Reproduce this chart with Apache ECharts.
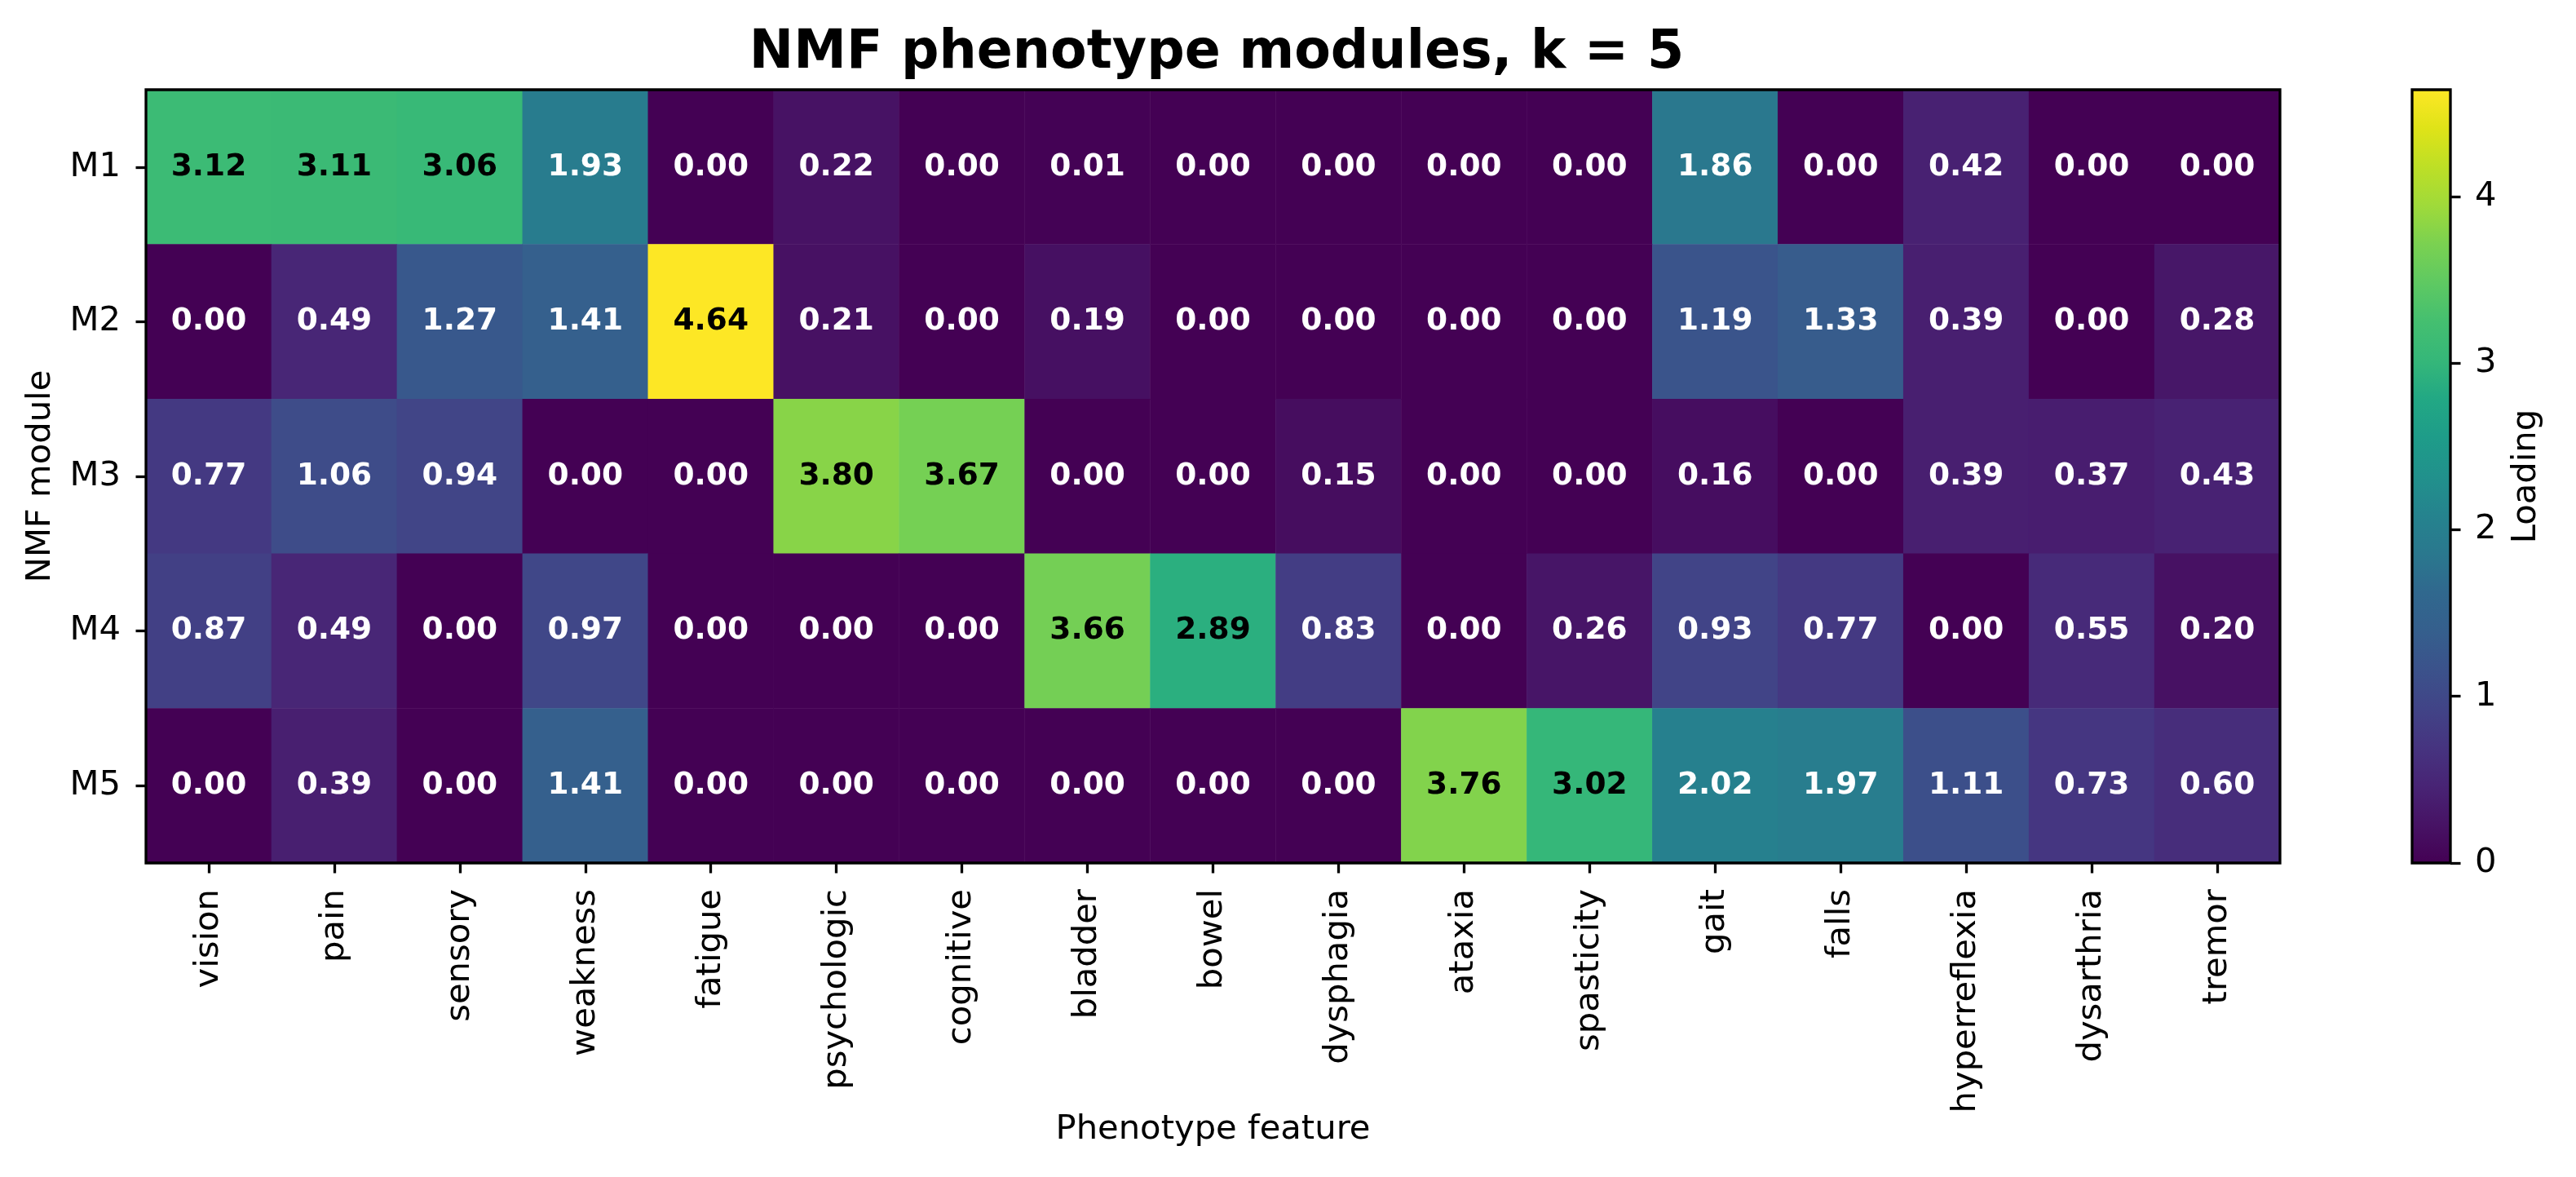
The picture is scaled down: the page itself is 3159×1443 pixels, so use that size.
<!DOCTYPE html>
<html>
<head>
<meta charset="utf-8">
<title>NMF phenotype modules</title>
<script src="https://cdn.jsdelivr.net/npm/echarts@6/dist/echarts.min.js"></script>
<style>
  html, body { margin: 0; padding: 0; background: #fff; }
  #chart { width: 3159px; height: 1443px; }
</style>
</head>
<body>
<div id="chart"></div>
<script>
// phenotype features (x) and modules (y)
var features = ['vision', 'pain', 'sensory', 'weakness', 'fatigue', 'psychologic', 'cognitive',
    'bladder', 'bowel', 'dysphagia', 'ataxia', 'spasticity', 'gait', 'falls',
    'hyperreflexia', 'dysarthria', 'tremor'];
var modules = ['M1', 'M2', 'M3', 'M4', 'M5'];

// loadings per module
var m1 = [3.12, 3.11, 3.06, 1.93, 0.00, 0.22, 0.00, 0.01, 0.00, 0.00, 0.00, 0.00, 1.86, 0.00, 0.42, 0.00, 0.00];
var m2 = [0.00, 0.49, 1.27, 1.41, 4.64, 0.21, 0.00, 0.19, 0.00, 0.00, 0.00, 0.00, 1.19, 1.33, 0.39, 0.00, 0.28];
var m3 = [0.77, 1.06, 0.94, 0.00, 0.00, 3.80, 3.67, 0.00, 0.00, 0.15, 0.00, 0.00, 0.16, 0.00, 0.39, 0.37, 0.43];
var m4 = [0.87, 0.49, 0.00, 0.97, 0.00, 0.00, 0.00, 3.66, 2.89, 0.83, 0.00, 0.26, 0.93, 0.77, 0.00, 0.55, 0.20];
var m5 = [0.00, 0.39, 0.00, 1.41, 0.00, 0.00, 0.00, 0.00, 0.00, 0.00, 3.76, 3.02, 2.02, 1.97, 1.11, 0.73, 0.60];
var rows = [m1, m2, m3, m4, m5];

var cbTicks = [0, 1, 2, 3, 4];

var viridis = ['#440154', '#471365', '#482475', '#463480', '#414487', '#3b528b', '#355f8d',
    '#30688e', '#2a788e', '#25838e', '#21918c', '#1e9c89', '#22a884', '#35b779', '#44bf70',
    '#5ec962', '#7ad151', '#9fda3a', '#bddf26', '#dfe318', '#fde725'];

var vmax = 0;
rows.forEach(function (r) { r.forEach(function (v) { if (v > vmax) vmax = v; }); });

var font = 'DejaVu Sans';
var heat = [];
rows.forEach(function (r, yi) {
    r.forEach(function (v, xi) {
        heat.push({
            value: [xi, yi, v],
            label: { color: v > vmax * 0.6 ? '#000' : '#fff' }
        });
    });
});

var stops = viridis.map(function (c, i) {
    return { offset: i / (viridis.length - 1), color: c };
});

var chart = echarts.init(document.getElementById('chart'));
chart.setOption({
    animation: false,
    backgroundColor: '#fff',
    title: {
        text: 'NMF phenotype modules, k = 5',
        left: 1487,
        top: 29,
        textAlign: 'center',
        textStyle: { fontFamily: font, fontSize: 65, fontWeight: 'bold', color: '#000' }
    },
    grid: [
        { left: 179, right: 363, top: 110, bottom: 385, show: true, z: 5,
          backgroundColor: 'transparent', borderColor: '#000', borderWidth: 3.3 },
        { left: 2958, width: 47, top: 110, bottom: 385, show: true, z: 5,
          backgroundColor: 'transparent', borderColor: '#000', borderWidth: 3.3 }
    ],
    xAxis: [
        {
            type: 'category', data: features, gridIndex: 0,
            name: 'Phenotype feature', nameLocation: 'middle', nameGap: 306,
            nameMoveOverlap: false,
            nameTextStyle: { fontFamily: font, fontSize: 41.7, color: '#000' },
            axisLine: { show: false },
            axisTick: { show: true, alignWithLabel: true, interval: 0, length: 12.5,
                        lineStyle: { color: '#000', width: 3.3 } },
            axisLabel: { interval: 0, rotate: 90, margin: 32, fontFamily: font,
                         fontSize: 41.7, color: '#000' },
            splitLine: { show: false }
        },
        { type: 'category', data: ['c'], gridIndex: 1, show: false }
    ],
    yAxis: [
        {
            type: 'category', data: modules, gridIndex: 0, inverse: true,
            name: 'NMF module', nameLocation: 'middle', nameGap: 108, nameRotate: 90,
            nameMoveOverlap: false,
            nameTextStyle: { fontFamily: font, fontSize: 41.7, color: '#000' },
            axisLine: { show: false },
            axisTick: { show: true, alignWithLabel: true, interval: 0, length: 12.5,
                        lineStyle: { color: '#000', width: 3.3 } },
            axisLabel: { interval: 0, margin: 31, fontFamily: font, fontSize: 41.7, color: '#000' },
            splitLine: { show: false }
        },
        {
            type: 'value', gridIndex: 1, position: 'right', min: 0, max: vmax, interval: 1,
            name: 'Loading', nameLocation: 'middle', nameGap: 72, nameRotate: 90,
            nameMoveOverlap: false,
            nameTextStyle: { fontFamily: font, fontSize: 41.7, color: '#000' },
            axisLine: { show: false },
            axisTick: { show: true, length: 12.5, lineStyle: { color: '#000', width: 3.3 } },
            axisLabel: {
                margin: 30, fontFamily: font, fontSize: 41.7, color: '#000',
                showMaxLabel: false,
                formatter: function (v) { return cbTicks.indexOf(v) >= 0 ? String(v) : ''; }
            },
            splitLine: { show: false }
        }
    ],
    visualMap: {
        show: false, type: 'continuous', min: 0, max: vmax, dimension: 2,
        seriesIndex: 0, inRange: { color: viridis }
    },
    series: [
        {
            type: 'heatmap', data: heat, xAxisIndex: 0, yAxisIndex: 0,
            itemStyle: { borderWidth: 0 },
            label: {
                show: true, fontFamily: font, fontSize: 37.5, fontWeight: 'bold',
                formatter: function (p) { return p.value[2].toFixed(2); }
            },
            emphasis: { disabled: true }
        },
        {
            type: 'bar', data: [vmax], xAxisIndex: 1, yAxisIndex: 1,
            barWidth: '100%', silent: true,
            itemStyle: { color: new echarts.graphic.LinearGradient(0, 1, 0, 0, stops) }
        }
    ]
});
</script>
</body>
</html>
